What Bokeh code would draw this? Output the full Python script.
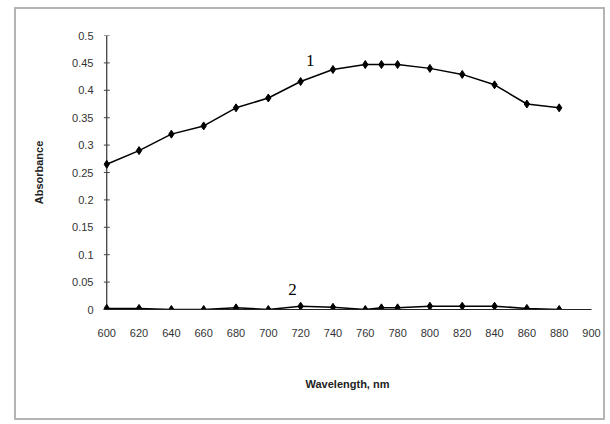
from bokeh.plotting import figure
from bokeh.models import FixedTicker, Label
from bokeh.embed import file_html
from bokeh.resources import INLINE

wavelength = [600, 620, 640, 660, 680, 700, 720, 740, 760, 770, 780, 800, 820, 840, 860, 880]
absorb_1 = [0.265, 0.29, 0.32, 0.335, 0.368, 0.386, 0.416, 0.438, 0.447, 0.447, 0.447, 0.44, 0.429, 0.41, 0.375, 0.368]
absorb_2 = [0.002, 0.002, 0.0, 0.0, 0.003, 0.0, 0.006, 0.004, 0.0, 0.003, 0.003, 0.006, 0.006, 0.006, 0.002, 0.0]

x_ticks = [600, 620, 640, 660, 680, 700, 720, 740, 760, 780, 800, 820, 840, 860, 880, 900]
y_ticks = [0, 0.05, 0.1, 0.15, 0.2, 0.25, 0.3, 0.35, 0.4, 0.45, 0.5]
y_tick_labels = ["0", "0.05", "0.1", "0.15", "0.2", "0.25", "0.3", "0.35", "0.4", "0.45", "0.5"]

p = figure(width=587, height=409, output_backend="svg", toolbar_location=None,
           x_range=(598, 900), y_range=(0, 0.5),
           min_border_left=87, min_border_right=12, min_border_top=26, min_border_bottom=109)
p.margin = (9, 0, 0, 16)
p.styles = {"outline": "2px solid #b4b4b4"}
p.outline_line_color = None
p.grid.visible = False
p.background_fill_color = "white"
p.border_fill_color = "white"

# y axis line and tick marks at the first wavelength
p.segment(x0=x_ticks[0], y0=y_ticks[0], x1=x_ticks[0], y1=y_ticks[-1],
          line_color="#333333", line_width=1.2)
p.scatter([x_ticks[0]] * len(y_ticks), y_ticks, marker="dash", size=6,
          line_color="#444444", line_width=1)

p.line(wavelength, absorb_1, line_color="black", line_width=1.5)
p.scatter(wavelength, absorb_1, marker="diamond", size=8, color="black")
p.line(wavelength, absorb_2, line_color="black", line_width=1.5)
p.scatter(wavelength, absorb_2, marker="diamond", size=8, color="black")

p.xaxis.ticker = FixedTicker(ticks=x_ticks)
p.yaxis.ticker = FixedTicker(ticks=y_ticks)
p.yaxis.major_label_overrides = {t: l for t, l in zip(y_ticks, y_tick_labels)}
p.xaxis.major_label_overrides = {t: str(t) for t in x_ticks}

for ax in (p.xaxis, p.yaxis):
    ax.axis_line_color = "#222222"
    ax.axis_line_width = 1
    ax.minor_tick_line_color = None
    ax.major_label_text_font = "Arial"
    ax.major_label_text_font_size = "11px"
    ax.major_label_text_color = "#333333"
    ax.axis_label_text_font = "Arial"
    ax.axis_label_text_font_size = "11px"
    ax.axis_label_text_font_style = "bold"
    ax.axis_label_text_color = "#222222"

p.xaxis.major_tick_line_color = None
p.xaxis.major_tick_out = 0
p.xaxis.major_tick_in = 0
p.xaxis.major_label_standoff = 19
p.xaxis.axis_label = "Wavelength, nm"
p.xaxis.axis_label_standoff = 38

p.yaxis.axis_line_color = None
p.yaxis.major_tick_line_color = None
p.yaxis.major_tick_out = 2
p.yaxis.major_tick_in = 0
p.yaxis.major_label_standoff = 8
p.yaxis.axis_label = "Absorbance"
p.yaxis.axis_label_standoff = 24

p.add_layout(Label(x=726, y=0.454, text="1", text_font="Liberation Serif",
                   text_font_size="17px", text_align="center", text_baseline="middle",
                   text_color="black"))
p.add_layout(Label(x=715, y=0.037, text="2", text_font="Liberation Serif",
                   text_font_size="17px", text_align="center", text_baseline="middle",
                   text_color="black"))

open("out.html", "w").write(file_html(p, INLINE))
